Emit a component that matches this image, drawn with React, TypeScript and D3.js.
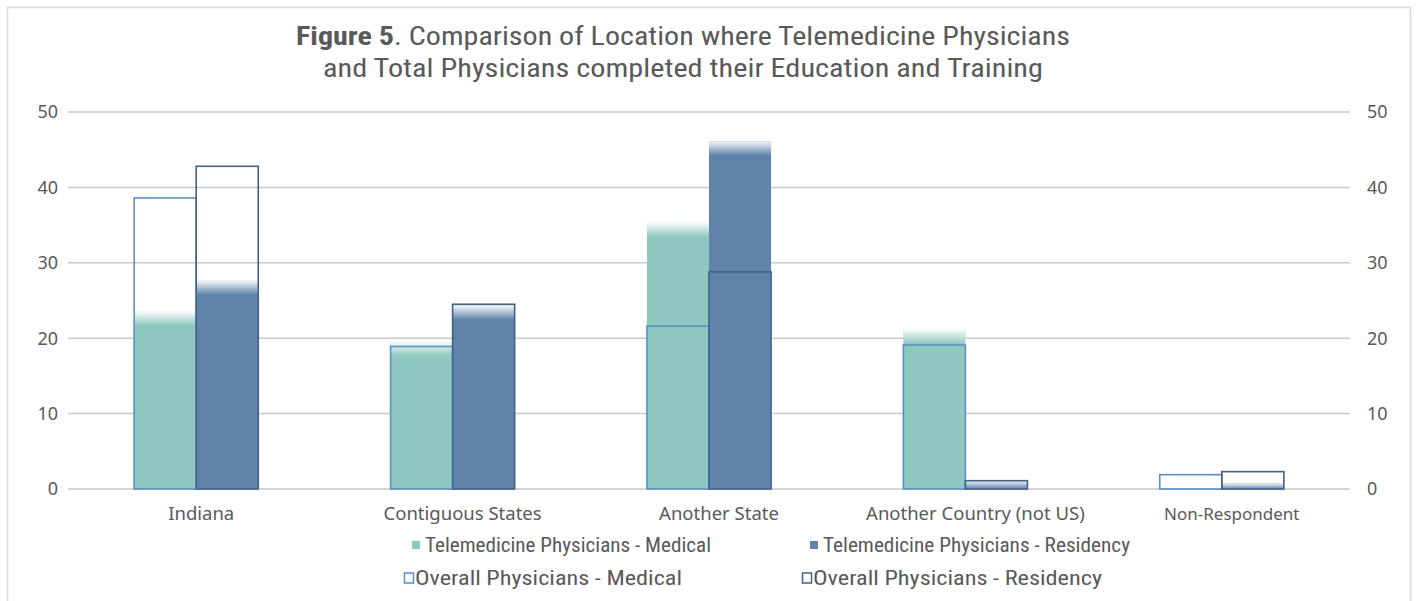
import { useEffect, useRef } from 'react';
import * as d3 from 'd3';

const categories = ['Indiana', 'Contiguous States', 'Another State', 'Another Country (not US)', 'Non-Respondent'];
const teleMedical = [23.5, 19.5, 35.3, 21.1, 0.1];
const teleResidency = [27.6, 24.3, 46.1, 1.1, 0.75];
const overallMedical = [38.6, 18.9, 21.6, 19.1, 1.9];
const overallResidency = [42.8, 24.5, 28.8, 1.1, 2.3];
const yTicks = [0, 10, 20, 30, 40, 50];
const subgroups = ['Medical', 'Residency'];

const legendItems = [
  { label: 'Telemedicine Physicians - Medical', kind: 'fill', color: '#8fc8c0' },
  { label: 'Telemedicine Physicians - Residency', kind: 'fill', color: '#5f83a9' },
  { label: 'Overall Physicians - Medical', kind: 'outline', color: '#5b8fc7' },
  { label: 'Overall Physicians - Residency', kind: 'outline', color: '#44618a' },
];

export default function App() {
  const ref = useRef<SVGSVGElement | null>(null);

  useEffect(() => {
    if (!ref.current) return;
    const svg = d3.select(ref.current);
    svg.selectAll('*').remove();

    const width = 1418;
    const height = 601;
    const left = 68;
    const right = 1350;
    const top = 112;
    const bottom = 489;
    const textColor = '#595959';
    const font = '"Noto Sans", "Open Sans", sans-serif';
    const narrow = '"Liberation Sans Narrow", "Roboto Condensed", Roboto, sans-serif';

    svg.attr('width', width).attr('height', height);

    const defs = svg.append('defs');
    const grad = defs.append('linearGradient').attr('id', 'fade').attr('x1', 0).attr('y1', 0).attr('x2', 0).attr('y2', 1);
    grad.append('stop').attr('offset', '0%').attr('stop-color', '#fff').attr('stop-opacity', 0.93);
    grad.append('stop').attr('offset', '100%').attr('stop-color', '#fff').attr('stop-opacity', 0);

    // outer border
    svg.append('rect')
      .attr('x', 7.5).attr('y', 7.5)
      .attr('width', 1403).attr('height', 620)
      .attr('fill', '#fff').attr('stroke', '#d9d9d9').attr('stroke-width', 1.5);

    const x = d3.scaleBand<string>().domain(categories).range([left, right]);
    const groupW = x.bandwidth() * 0.484;
    const xSub = d3.scaleBand<string>().domain(subgroups).range([-groupW / 2, groupW / 2]);
    const y = d3.scaleLinear().domain([0, 50]).range([bottom, top]);

    // gridlines
    svg.append('g').selectAll('line').data(yTicks).enter().append('line')
      .attr('x1', left).attr('x2', right)
      .attr('y1', d => y(d)).attr('y2', d => y(d))
      .attr('stroke', '#c9c9c9').attr('stroke-width', 1.5);

    // axis labels
    svg.append('g').selectAll('text').data(yTicks).enter().append('text')
      .attr('x', 58).attr('y', d => y(d)).attr('dy', '0.35em')
      .attr('text-anchor', 'end').attr('font-family', font).attr('font-size', 18)
      .attr('fill', textColor).text(d => d);
    svg.append('g').selectAll('text').data(yTicks).enter().append('text')
      .attr('x', 1367).attr('y', d => y(d)).attr('dy', '0.35em')
      .attr('text-anchor', 'start').attr('font-family', font).attr('font-size', 18)
      .attr('fill', textColor).text(d => d);

    const bw = xSub.bandwidth();
    const cx = (c: string) => (x(c) as number) + x.bandwidth() / 2;

    const fillBars = [
      { values: teleMedical, sub: 'Medical', color: '#8fc8c0' },
      { values: teleResidency, sub: 'Residency', color: '#5f83a9' },
    ];
    fillBars.forEach(s => {
      const g = svg.append('g');
      categories.forEach((c, i) => {
        const v = s.values[i];
        const x0 = cx(c) + (xSub(s.sub) as number);
        const h = bottom - y(v);
        g.append('rect')
          .attr('x', x0).attr('y', y(v)).attr('width', bw).attr('height', h)
          .attr('fill', s.color);
        g.append('rect')
          .attr('x', x0).attr('y', y(v)).attr('width', bw).attr('height', Math.min(14, h))
          .attr('fill', 'url(#fade)');
      });
    });

    const outlineBars = [
      { values: overallMedical, sub: 'Medical', color: '#5b8fc7' },
      { values: overallResidency, sub: 'Residency', color: '#44618a' },
    ];
    outlineBars.forEach(s => {
      svg.append('g').selectAll('rect').data(categories).enter().append('rect')
        .attr('x', c => cx(c) + (xSub(s.sub) as number))
        .attr('y', (_, i) => y(s.values[i]))
        .attr('width', bw)
        .attr('height', (_, i) => bottom - y(s.values[i]))
        .attr('fill', 'none').attr('stroke', s.color).attr('stroke-width', 1.6);
    });

    // category labels
    svg.append('g').selectAll('text').data(categories).enter().append('text')
      .attr('x', c => cx(c) + (c === 'Indiana' ? 5 : 10))
      .attr('y', 520)
      .attr('text-anchor', 'middle')
      .attr('font-family', font)
      .attr('font-size', c => c === 'Non-Respondent' ? 17 : 18.5)
      .attr('fill', textColor)
      .text(c => c);

    // title
    const title = svg.append('text')
      .attr('x', 683).attr('y', 45).attr('text-anchor', 'middle')
      .attr('font-family', narrow).attr('font-size', 25).attr('fill', textColor)
      .attr('textLength', 774).attr('lengthAdjust', 'spacingAndGlyphs');
    title.append('tspan').attr('font-weight', 'bold').text('Figure 5');
    title.append('tspan').text('. Comparison of Location where Telemedicine Physicians');
    svg.append('text')
      .attr('x', 683).attr('y', 77).attr('text-anchor', 'middle')
      .attr('font-family', narrow).attr('font-size', 25).attr('fill', textColor)
      .attr('textLength', 720).attr('lengthAdjust', 'spacingAndGlyphs')
      .text('and Total Physicians completed their Education and Training');

    // legend
    const legendPos = [
      { x: 412, y: 545, w: 286 },
      { x: 810, y: 545, w: 307 },
      { x: 404, y: 578, w: 267 },
      { x: 802, y: 578, w: 289 },
    ];
    legendItems.forEach((item, i) => {
      const p = legendPos[i];
      const g = svg.append('g').attr('transform', `translate(${p.x},${p.y})`);
      if (item.kind === 'fill') {
        g.append('rect').attr('x', 0).attr('y', -4).attr('width', 8).attr('height', 8).attr('fill', item.color);
      } else {
        g.append('rect').attr('x', 0.5).attr('y', -5).attr('width', 9).attr('height', 10)
          .attr('fill', 'none').attr('stroke', item.color).attr('stroke-width', 1.5);
      }
      g.append('text')
        .attr('x', item.kind === 'fill' ? 13 : 11).attr('y', 0).attr('dy', '0.35em')
        .attr('font-family', narrow).attr('font-size', 21).attr('fill', textColor)
        .attr('textLength', p.w).attr('lengthAdjust', 'spacingAndGlyphs')
        .text(item.label);
    });
  }, []);

  return (
    <div style={{ position: 'absolute', left: 0, top: 0 }}>
      <svg ref={ref}></svg>
    </div>
  );
}
